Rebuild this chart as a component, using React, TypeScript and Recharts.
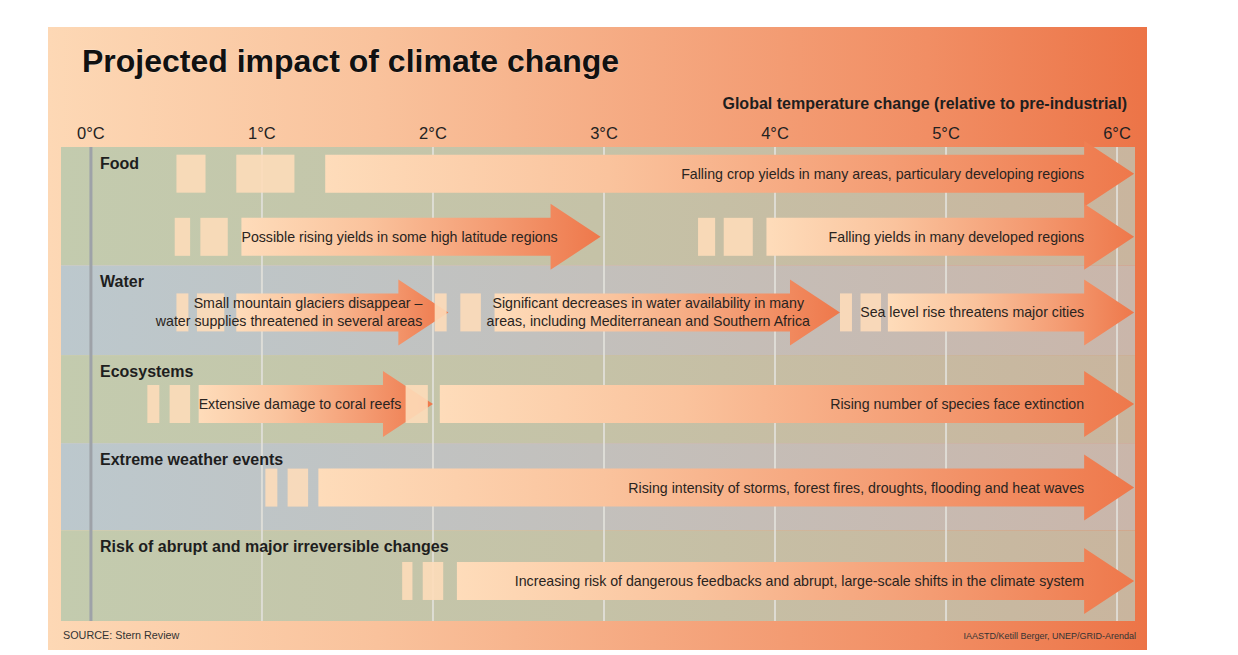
import React from "react";
import { ComposedChart, XAxis, YAxis, ReferenceArea } from "recharts";

// temperature axis (°C above pre-industrial)
const temperatureTicks = [0, 1, 2, 3, 4, 5, 6];

const sectors = [
  "Food",
  "Water",
  "Ecosystems",
  "Extreme weather events",
  "Risk of abrupt and major irreversible changes",
];

const impactLabels = [
  ["Falling crop yields in many areas, particulary developing regions"],
  ["Possible rising yields in some high latitude regions"],
  ["Falling yields in many developed regions"],
  ["Small mountain glaciers disappear –", "water supplies threatened in several areas"],
  ["Significant decreases in water availability in many", "areas, including Mediterranean and Southern Africa"],
  ["Sea level rise threatens major cities"],
  ["Extensive damage to coral reefs"],
  ["Rising number of species face extinction"],
  ["Rising intensity of storms, forest fires, droughts, flooding and heat waves"],
  ["Increasing risk of dangerous feedbacks and abrupt, large-scale shifts in the climate system"],
];
const impactSector = [0, 0, 0, 1, 1, 1, 2, 2, 3, 4];
const impactLane = [0, 1, 1, 0, 0, 0, 0, 0, 0, 0];
const impactFrom = [1.37, 0.88, 3.95, 0.85, 2.36, 4.66, 0.63, 2.04, 1.33, 2.14];
const impactTo = [6.1, 2.98, 6.1, 2.09, 4.38, 6.1, 2.0, 6.1, 6.1, 6.1];
// faded lead-in blocks before each arrow
const impactLeadIn = [
  [[0.5, 0.67], [0.85, 1.19]],
  [[0.49, 0.58], [0.64, 0.8]],
  [[3.55, 3.65], [3.7, 3.87]],
  [[0.5, 0.57], [0.62, 0.78]],
  [[2.01, 2.08], [2.16, 2.28]],
  [[4.38, 4.45], [4.5, 4.62]],
  [[0.33, 0.4], [0.46, 0.58]],
  [[1.84, 1.97]],
  [[1.02, 1.09], [1.15, 1.27]],
  [[1.82, 1.88], [1.94, 2.06]],
];

// layout (vertical units of the hidden y axis)
const BAND_TOP = [0, 1.33, 2.34, 3.33, 4.31];
const BAND_BOTTOM = [1.33, 2.34, 3.33, 4.31, 5.33];
const LANE_OFFSET = [[0.3, 1.01], [0.53], [0.55], [0.5], [0.57]];
const LABEL_ALIGN = ["end", "start", "end", "tip", "middle", "end", "start", "end", "end", "end"];

const BODY = 19;
const HEAD = 33;
const HEAD_LEN = 50;
const FONT = "'Liberation Sans', Arial, Helvetica, sans-serif";

const laneY = (i: number) => BAND_TOP[impactSector[i]] + LANE_OFFSET[impactSector[i]][impactLane[i]];

const ArrowShape = (props: any) => {
  const { x, y, width } = props;
  const tip = x + width;
  const neck = tip - HEAD_LEN;
  const d = `M${x},${y - BODY} L${neck},${y - BODY} L${neck},${y - HEAD} L${tip},${y} L${neck},${y + HEAD} L${neck},${y + BODY} L${x},${y + BODY} Z`;
  return <path d={d} fill="url(#arrowGrad)" />;
};

const ArrowLabel = (props: any) => {
  const { x, y, width, lines, align } = props;
  const tip = x + width;
  const neck = tip - HEAD_LEN;
  let tx = neck;
  let anchor = "end";
  if (align === "start") {
    tx = x;
    anchor = "start";
  } else if (align === "tip") {
    tx = tip - 26;
  } else if (align === "middle") {
    tx = (x + neck) / 2 + 6;
    anchor = "middle";
  }
  const lh = 18;
  const y0 = y - ((lines.length - 1) * lh) / 2 + 5;
  return (
    <text x={tx} y={y0} textAnchor={anchor} fontFamily={FONT} fontSize={14.2} fill="#2a2420">
      {lines.map((l: string, k: number) => (
        <tspan key={k} x={tx} y={y0 + k * lh}>
          {l}
        </tspan>
      ))}
    </text>
  );
};

const BlockShape = (props: any) => {
  const { x, y, width } = props;
  return <rect x={x} y={y - BODY} width={width} height={BODY * 2} fill="#fddbb9" fillOpacity={0.9} />;
};

const BandShape = (props: any) => {
  const { x, y, width, height, tone } = props;
  return <rect x={x} y={y} width={width} height={height} fill={tone === 0 ? "url(#greenBand)" : "url(#blueBand)"} />;
};

const BandTitle = (props: any) => {
  const { x, y, title } = props;
  return (
    <text x={x + 39} y={y + 22} fontFamily={FONT} fontWeight="bold" fontSize={16} fill="#1e1e1e">
      {title}
    </text>
  );
};

const GridShape = (props: any) => {
  const { x, y, height, zero } = props;
  return (
    <line
      x1={x}
      x2={x}
      y1={y}
      y2={y + height}
      stroke={zero ? "#9ea2a8" : "#e2e0da"}
      strokeOpacity={zero ? 1 : 0.85}
      strokeWidth={zero ? 3 : 2}
    />
  );
};

const TempTick = (props: any) => {
  const { x, y, payload } = props;
  return (
    <text x={x} y={y - 8} textAnchor="middle" fontFamily={FONT} fontSize={16.5} fill="#222">
      {`${payload.value}°C`}
    </text>
  );
};

export default function App() {
  return (
    <div style={{ position: "absolute", left: 0, top: 0, width: 1238, height: 655, background: "#fff" }}>
      <div
        style={{
          position: "absolute",
          left: 48,
          top: 27,
          width: 1099,
          height: 623,
          background: "linear-gradient(to right, #fdd8b5 0%, #f9c29c 30%, #f5a880 55%, #f18e64 80%, #ec7447 100%)",
        }}
      />
      <svg style={{ position: "absolute", left: 0, top: 0 }} width={1238} height={655}>
        <text
          x={82}
          y={72}
          fontFamily={FONT}
          fontWeight="bold"
          fontSize={32}
          fill="#111"
          stroke="#fff"
          strokeOpacity={0.35}
          strokeWidth={1}
          paintOrder="stroke"
        >
          Projected impact of climate change
        </text>
        <text x={1127} y={109} textAnchor="end" fontFamily={FONT} fontWeight="bold" fontSize={16} fill="#1e1e1e">
          Global temperature change (relative to pre-industrial)
        </text>
        <text x={63} y={639} fontFamily={FONT} fontSize={10.8} fill="#333">
          SOURCE: Stern Review
        </text>
        <text x={1136} y={639} textAnchor="end" fontFamily={FONT} fontSize={9} fill="#333">
          IAASTD/Ketill Berger, UNEP/GRID-Arendal
        </text>
      </svg>
      <div style={{ position: "absolute", left: 0, top: 0 }}>
        <ComposedChart width={1238} height={655} margin={{ top: 117, right: 103, bottom: 34, left: 61 }} data={[]}>
          <defs>
            <linearGradient id="arrowGrad" x1="0" y1="0" x2="1" y2="0">
              <stop offset="0%" stopColor="#fedcba" />
              <stop offset="35%" stopColor="#fac39d" />
              <stop offset="70%" stopColor="#f49c73" />
              <stop offset="100%" stopColor="#ee784b" />
            </linearGradient>
            <linearGradient id="greenBand" x1="0" y1="0" x2="1" y2="0">
              <stop offset="0%" stopColor="#c3cbae" />
              <stop offset="50%" stopColor="#c5c2a7" />
              <stop offset="100%" stopColor="#c9b59e" />
            </linearGradient>
            <linearGradient id="blueBand" x1="0" y1="0" x2="1" y2="0">
              <stop offset="0%" stopColor="#bcc8cd" />
              <stop offset="50%" stopColor="#c3c0bc" />
              <stop offset="100%" stopColor="#cab6aa" />
            </linearGradient>
          </defs>
          <XAxis
            type="number"
            orientation="top"
            dataKey="t"
            domain={[-0.175, 6.105]}
            ticks={temperatureTicks}
            allowDataOverflow
            axisLine={false}
            tickLine={false}
            tickSize={0}
            tickMargin={0}
            height={30}
            tick={<TempTick />}
            interval={0}
          />
          <YAxis type="number" domain={[0, 5.33]} reversed hide allowDataOverflow />
          {sectors.map((s, i) => (
            <ReferenceArea
              key={`band-${i}`}
              y1={BAND_TOP[i]}
              y2={BAND_BOTTOM[i]}
              ifOverflow="visible"
              shape={(p: any) => <BandShape {...p} tone={i % 2} />}
            />
          ))}
          {temperatureTicks.map((t) => (
            <ReferenceArea
              key={`grid-${t}`}
              x1={t}
              x2={t}
              ifOverflow="visible"
              shape={(p: any) => <GridShape {...p} zero={t === 0} />}
            />
          ))}
          {impactLabels.map((lines, i) => (
            <ReferenceArea
              key={`arrow-${i}`}
              x1={impactFrom[i]}
              x2={impactTo[i]}
              y1={laneY(i)}
              y2={laneY(i)}
              ifOverflow="visible"
              shape={(p: any) => <ArrowShape {...p} />}
            />
          ))}
          {impactLeadIn.map((blocks, i) =>
            blocks.map((b, k) => (
              <ReferenceArea
                key={`block-${i}-${k}`}
                x1={b[0]}
                x2={b[1]}
                y1={laneY(i)}
                y2={laneY(i)}
                ifOverflow="visible"
                shape={(p: any) => <BlockShape {...p} />}
              />
            ))
          )}
          {impactLabels.map((lines, i) => (
            <ReferenceArea
              key={`label-${i}`}
              x1={impactFrom[i]}
              x2={impactTo[i]}
              y1={laneY(i)}
              y2={laneY(i)}
              ifOverflow="visible"
              shape={(p: any) => <ArrowLabel {...p} lines={lines} align={LABEL_ALIGN[i]} />}
            />
          ))}
          {sectors.map((s, i) => (
            <ReferenceArea
              key={`title-${i}`}
              y1={BAND_TOP[i]}
              y2={BAND_BOTTOM[i]}
              ifOverflow="visible"
              shape={(p: any) => <BandTitle {...p} title={s} />}
            />
          ))}
        </ComposedChart>
      </div>
    </div>
  );
}
